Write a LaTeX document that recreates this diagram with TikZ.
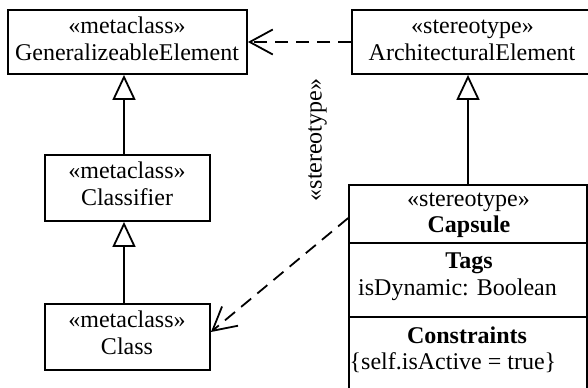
\documentclass[tikz,border=0pt]{standalone}
\usepackage{fontspec}
\setmainfont{Liberation Serif}
\usetikzlibrary{arrows.meta}
\begin{document}
\begin{tikzpicture}[x=1bp,y=-1bp,
  box/.style={draw, line width=1.8bp, inner sep=0, rectangle},
  txt/.style={inner sep=0, anchor=base, font=\fontsize{24bp}{28bp}\selectfont},
  ltxt/.style={txt, anchor=base west},
  gen/.style={line width=1.8bp, -{Triangle[open, length=25bp, width=23bp]}},
  dep/.style={line width=1.8bp, dash pattern=on 13bp off 8bp, -{Straight Barb[length=23bp, width=25bp]}},
  sep/.style={line width=1.8bp}
]
\useasboundingbox (0,0) rectangle (588,387);
\clip (0,0) rectangle (588,387);
% boxes
\node[box, minimum width=239bp, minimum height=64bp] (ge) at (127.5,42) {};
\node[box, minimum width=240bp, minimum height=64bp] (ae) at (472,42) {};
\node[box, minimum width=165bp, minimum height=66bp] (cfr) at (127.5,188) {};
\node[box, minimum width=165bp, minimum height=66bp] (cls) at (127.5,337) {};
\node[box, minimum width=238bp, minimum height=215bp] (cap) at (468,292.5) {};
\draw[sep] (cap.west |- 0,243) -- (cap.east |- 0,243);
\draw[sep] (cap.west |- 0,317) -- (cap.east |- 0,317);
% texts
\node[txt] (ge1) at (127,33) {«metaclass»};
\node[txt] (ge2) at (127,60) {GeneralizeableElement};
\node[txt] (ae1) at (472.5,33) {«stereotype»};
\node[txt] (ae2) at (472,60) {ArchitecturalElement};
\node[txt] (cf1) at (127,178) {«metaclass»};
\node[txt] (cf2) at (127,205.5) {Classifier};
\node[txt] (cl1) at (127,327) {«metaclass»};
\node[txt] (cl2) at (127,354) {Class};
\node[txt] (cp1) at (468.5,206.5) {«stereotype»};
\node[txt] (cp2) at (469,232) {\bfseries Capsule};
\node[txt] (cp3) at (469,268.5) {\bfseries Tags};
\node[ltxt] (cp4) at (358,295) {isDynamic: Boolean};
\node[txt] (cp5) at (467,343.5) {\bfseries Constraints};
\node[ltxt] (cp6) at (349.5,369.5) {\{self.isActive = true\}};
\node[txt, anchor=center, rotate=90] (st) at (317.5,140) {«stereotype»};
% connectors
\draw[gen] ([xshift=-3.5bp]cfr.north) -- ([xshift=-3.5bp]cfr.north |- ge.south);
\draw[gen] ([xshift=-3.5bp]cls.north) -- ([xshift=-3.5bp]cls.north |- cfr.south);
\draw[gen] (cap.north) -- (cap.north |- ae.south);
\draw[dep] (ae.west) -- (ge.east);
\draw[dep] ([yshift=-34bp]cap.north west) -- ([yshift=5bp]cls.east);
\end{tikzpicture}
\end{document}
